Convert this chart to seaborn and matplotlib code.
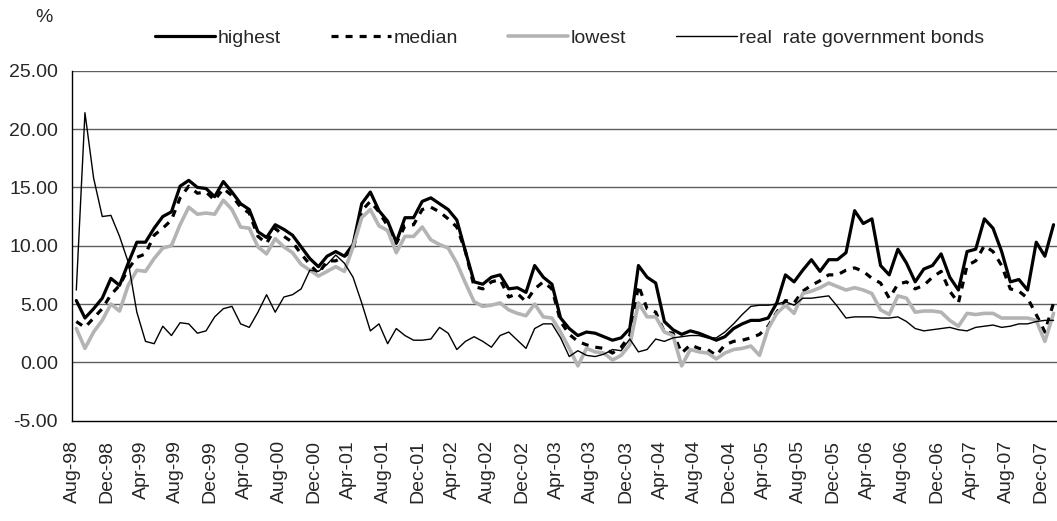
import pandas as pd
import seaborn as sns
import matplotlib.pyplot as plt

months = pd.date_range("1998-08-01", periods=114, freq="MS")

highest = [5.3, 3.8, 4.6, 5.5, 7.2, 6.6, 8.5, 10.3, 10.3, 11.5, 12.5, 12.9,
           15.1, 15.6, 15.0, 14.9, 14.2, 15.5, 14.6, 13.6, 13.1, 11.2, 10.7, 11.8,
           11.4, 10.9, 9.9, 8.9, 8.2, 9.1, 9.5, 9.1, 10.1, 13.6, 14.6, 13.0,
           12.1, 10.3, 12.4, 12.4, 13.8, 14.1, 13.6, 13.1, 12.2, 9.5, 6.9, 6.7,
           7.3, 7.5, 6.3, 6.4, 6.0, 8.3, 7.3, 6.7, 3.8, 2.9, 2.3, 2.6,
           2.5, 2.2, 1.9, 2.1, 2.9, 8.3, 7.3, 6.8, 3.5, 2.8, 2.4, 2.7,
           2.5, 2.2, 1.9, 2.2, 2.9, 3.3, 3.6, 3.6, 3.8, 5.1, 7.5, 6.9,
           7.9, 8.8, 7.8, 8.8, 8.8, 9.4, 13.0, 11.9, 12.3, 8.3, 7.5, 9.7,
           8.5, 6.9, 8.0, 8.3, 9.3, 7.3, 6.2, 9.5, 9.7, 12.3, 11.5, 9.5,
           6.9, 7.1, 6.2, 10.3, 9.1, 11.8]

median = [3.5, 3.0, 3.8, 4.6, 5.8, 6.6, 8.0, 9.0, 9.3, 10.9, 11.5, 12.2,
          14.1, 15.1, 14.5, 14.6, 13.9, 14.9, 14.3, 13.3, 12.8, 10.8, 10.2, 11.5,
          10.8, 10.3, 9.3, 8.4, 7.6, 8.7, 8.7, 9.1, 9.6, 13.0, 13.8, 12.9,
          11.7, 10.2, 11.7, 11.8, 13.1, 13.3, 12.9, 12.3, 11.6, 9.5, 6.5, 6.3,
          6.9, 7.1, 5.6, 5.9, 5.2, 6.3, 6.9, 6.3, 3.5, 2.4, 1.8, 1.5,
          1.3, 1.2, 0.8, 1.3, 2.3, 6.6, 4.6, 4.3, 2.6, 2.5, 0.8, 1.5,
          1.2, 1.1, 0.6, 1.5, 1.8, 1.9, 2.1, 2.4, 3.1, 4.3, 5.3, 5.1,
          6.1, 6.6, 7.0, 7.5, 7.5, 7.9, 8.1, 7.8, 7.2, 6.8, 5.5, 6.7,
          6.9, 6.3, 6.6, 7.3, 7.8, 6.1, 5.1, 8.3, 8.7, 10.0, 9.5, 8.3,
          6.3, 6.1, 5.5, 4.1, 2.6, 5.1]

lowest = [2.9, 1.2, 2.6, 3.6, 5.0, 4.4, 6.6, 7.9, 7.8, 8.9, 9.8, 10.0,
          11.8, 13.3, 12.7, 12.8, 12.7, 13.9, 13.1, 11.6, 11.5, 9.9, 9.3, 10.6,
          9.9, 9.4, 8.4, 7.9, 7.4, 7.8, 8.2, 7.8, 9.9, 12.4, 13.1, 11.7,
          11.3, 9.4, 10.8, 10.8, 11.6, 10.5, 10.1, 9.8, 8.5, 6.8, 5.2, 4.8,
          4.9, 5.1, 4.5, 4.2, 4.0, 5.0, 3.9, 3.8, 2.6, 1.2, -0.3, 1.2,
          0.9, 0.8, 0.2, 0.6, 1.5, 5.1, 3.9, 3.9, 2.6, 2.3, -0.3, 1.1,
          0.9, 0.8, 0.3, 0.8, 1.1, 1.2, 1.4, 0.6, 2.9, 4.2, 4.9, 4.2,
          5.9, 6.1, 6.4, 6.8, 6.5, 6.2, 6.4, 6.2, 5.9, 4.5, 4.1, 5.7,
          5.5, 4.3, 4.4, 4.4, 4.3, 3.6, 3.1, 4.2, 4.1, 4.2, 4.2, 3.8,
          3.8, 3.8, 3.8, 3.6, 1.8, 4.2]

bonds = [6.2, 21.4, 15.8, 12.5, 12.6, 10.8, 8.6, 4.3, 1.8, 1.6, 3.1, 2.3,
         3.4, 3.3, 2.5, 2.7, 3.9, 4.6, 4.8, 3.3, 3.0, 4.3, 5.8, 4.3,
         5.6, 5.8, 6.3, 7.9, 7.8, 8.4, 9.2, 8.5, 7.3, 5.1, 2.7, 3.3,
         1.6, 2.9, 2.3, 1.9, 1.9, 2.0, 3.0, 2.5, 1.1, 1.8, 2.2, 1.8,
         1.3, 2.3, 2.6, 1.9, 1.2, 2.9, 3.3, 3.3, 2.1, 0.5, 1.0, 0.6,
         0.5, 0.7, 1.1, 1.0, 2.0, 0.9, 1.1, 2.0, 1.8, 2.1, 2.2, 2.3,
         2.3, 2.1, 2.1, 2.6, 3.3, 4.1, 4.8, 4.9, 4.9, 5.0, 5.2, 4.9,
         5.5, 5.5, 5.6, 5.7, 4.8, 3.8, 3.9, 3.9, 3.9, 3.8, 3.8, 3.9,
         3.5, 2.9, 2.7, 2.8, 2.9, 3.0, 2.8, 2.7, 3.0, 3.1, 3.2, 3.0,
         3.1, 3.3, 3.3, 3.5, 3.6, 3.6]

tick_labels = [m.strftime("%b-%y") for m in months[::4]]

df = pd.DataFrame({
    "pos": [i + 0.5 for i in range(len(months))],
    "highest": highest,
    "median": median,
    "lowest": lowest,
    "bonds": bonds,
})

sns.set_style("white")
plt.rcParams["font.family"] = ["Liberation Sans", "DejaVu Sans"]
plt.rcParams["font.size"] = 14

fig = plt.figure(figsize=(10.57, 5.21), dpi=100)
ax = fig.add_axes([0.0681, 0.1925, 0.9319, 0.6718])

for yv in [0, 5, 10, 15, 20, 25]:
    ax.axhline(yv, color="#5e5e5e", lw=1.0, zorder=0)

sns.lineplot(data=df, x="pos", y="highest", ax=ax, color="black", lw=2.3,
             label="highest")
sns.lineplot(data=df, x="pos", y="median", ax=ax, color="black", lw=2.3,
             linestyle=(0, (2.2, 2.2)), label="median")
sns.lineplot(data=df, x="pos", y="lowest", ax=ax, color="#b4b4b4", lw=2.6,
             label="lowest")
sns.lineplot(data=df, x="pos", y="bonds", ax=ax, color="black", lw=1.0,
             label="real  rate government bonds")

handles, labels = ax.get_legend_handles_labels()
if ax.get_legend() is not None:
    ax.get_legend().remove()

ax.set_xlim(0, 113.9)
ax.set_ylim(-5, 25)
ax.set_yticks([-5, 0, 5, 10, 15, 20, 25])
ax.set_yticklabels([f"{v:.2f}" for v in [-5, 0, 5, 10, 15, 20, 25]])
ax.set_xticks(range(0, 114, 4))
ax.set_xticklabels(tick_labels, rotation=90)
ax.set_xlabel("")
ax.set_ylabel("")

ax.tick_params(axis="y", direction="out", length=5, width=1, pad=5, labelsize=14)
ax.tick_params(axis="x", direction="out", length=5, width=1, pad=9, labelsize=14)
for side in ["top", "right"]:
    ax.spines[side].set_visible(False)
for side in ["left", "bottom"]:
    ax.spines[side].set_color("black")
    ax.spines[side].set_linewidth(1.0)

fig.legend(handles, labels, loc="center left", bbox_to_anchor=(0.1466, 0.927),
           ncol=4, frameon=False, handlelength=3.1, handletextpad=0.1,
           columnspacing=2.6, borderpad=0, borderaxespad=0, fontsize=14)

fig.text(0.033, 1 - 18 / 521, "%", ha="left", va="center", fontsize=14)

fig.savefig("out.png", dpi=100)
